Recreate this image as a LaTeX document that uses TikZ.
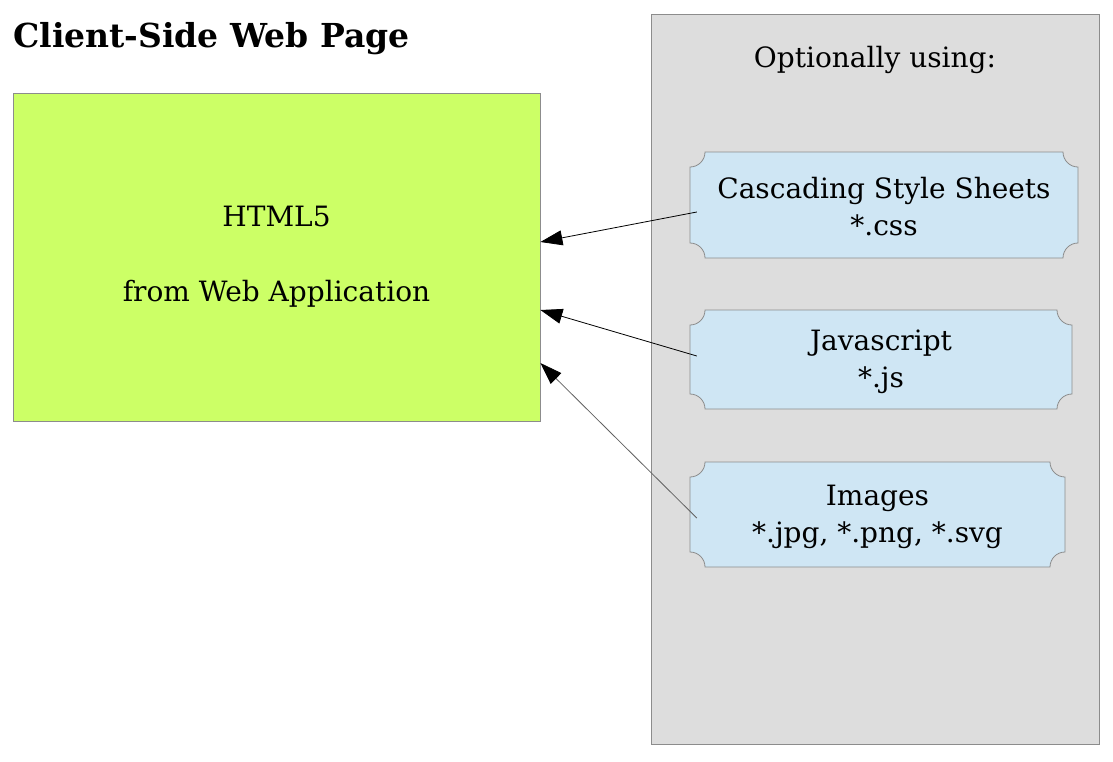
\documentclass[tikz,border=0pt]{standalone}
\usepackage{fontspec}
\setmainfont{DejaVu Serif}
\usetikzlibrary{arrows.meta}
\definecolor{htmlgreen}{RGB}{204,255,102}
\definecolor{panelgray}{RGB}{221,221,221}
\definecolor{filebox}{RGB}{207,230,244}
\definecolor{edgegray}{RGB}{140,140,140}
\begin{document}
\begin{tikzpicture}[x=1pt,y=-1pt,
    txt/.style={font=\fontsize{28}{37}\selectfont, align=center, inner sep=0},
    ticket/.style={fill=filebox, draw=edgegray, line width=0.8pt},
    feed/.style={-{Triangle[length=22pt,width=15pt,color=black]}, line width=0.8pt}]
  \useasboundingbox (0,0) rectangle (1113,761);
  \fill[white] (0,0) rectangle (1113,761);
  \filldraw[fill=panelgray, draw=edgegray, line width=0.8pt] (651,14) rectangle (1099,744);
  \node[anchor=base west, inner sep=0, font=\bfseries\fontsize{33}{38}\selectfont] (title) at (13,47) {Client-Side Web Page};
  \node[txt, draw=edgegray, fill=htmlgreen, line width=0.8pt, minimum width=527pt, minimum height=328pt] (html) at (276.5,257)
    {HTML5\\[38pt]from Web Application};
  \node[txt] (using) at (875,60) {Optionally using:};
  \foreach \xa/\ya/\xb/\yb in {690/152/1078/258, 690/310/1072/409, 690/462/1065/567}
    \filldraw[ticket] (\xa+15,\ya) -- (\xb-15,\ya)
      arc[start angle=180, end angle=90, radius=15] -- (\xb,\yb-15)
      arc[start angle=-90, end angle=-180, radius=15] -- (\xa+15,\yb)
      arc[start angle=0, end angle=-90, radius=15] -- (\xa,\ya+15)
      arc[start angle=90, end angle=0, radius=15] -- cycle;
  \node[txt, minimum width=388pt, minimum height=106pt] (css) at (884,207) {Cascading Style Sheets\\*.css};
  \node[txt, minimum width=382pt, minimum height=99pt] (js) at (881,361.5) {Javascript\\*.js};
  \node[txt, minimum width=375pt, minimum height=105pt] (img) at (877.5,516.5) {Images\\*.jpg, *.png, *.svg};
  \draw[feed] ([shift={(7,5)}]css.west) -- ([shift={(0,-15)}]html.east);
  \draw[feed] ([shift={(7,-5.5)}]js.west) -- ([shift={(0,53)}]html.east);
  \draw[feed, draw=edgegray!70!black] ([shift={(7,1.5)}]img.west) -- ([shift={(0,106)}]html.east);
\end{tikzpicture}
\end{document}
